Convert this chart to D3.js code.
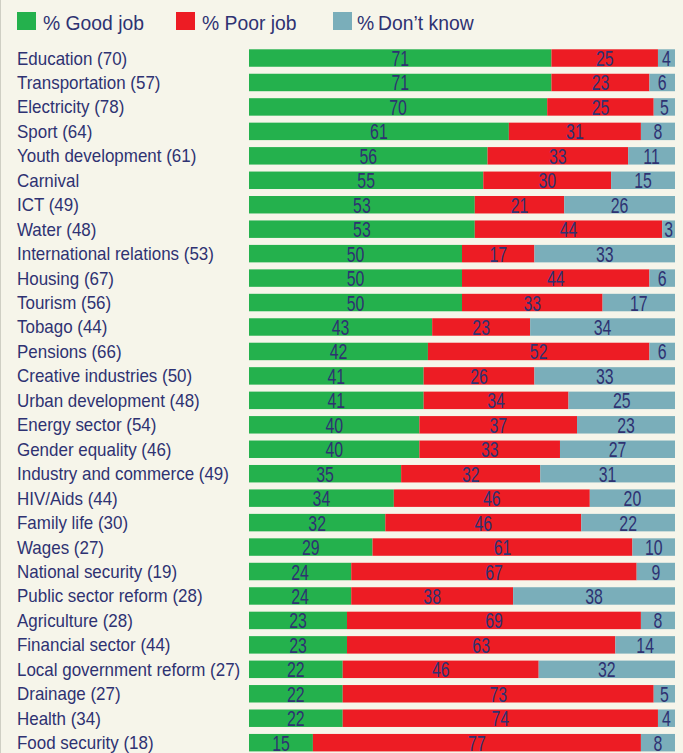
<!DOCTYPE html>
<html>
<head>
<meta charset="utf-8">
<script src="https://cdn.jsdelivr.net/npm/d3@7"></script>
<style>
  html, body { margin: 0; padding: 0; background: #f6f5ea; }
  svg { display: block; font-family: "Liberation Sans", Arial, sans-serif; }
</style>
</head>
<body>
<div id="chart"></div>
<script>
const categories = [
  "Education (70)", "Transportation (57)", "Electricity (78)", "Sport (64)",
  "Youth development (61)", "Carnival", "ICT (49)", "Water (48)",
  "International relations (53)", "Housing (67)", "Tourism (56)", "Tobago (44)",
  "Pensions (66)", "Creative industries (50)", "Urban development (48)",
  "Energy sector (54)", "Gender equality (46)", "Industry and commerce (49)",
  "HIV/Aids (44)", "Family life (30)", "Wages (27)", "National security (19)",
  "Public sector reform (28)", "Agriculture (28)", "Financial sector (44)",
  "Local government reform (27)", "Drainage (27)", "Health (34)", "Food security (18)"
];
const goodJob  = [71, 71, 70, 61, 56, 55, 53, 53, 50, 50, 50, 43, 42, 41, 41, 40, 40, 35, 34, 32, 29, 24, 24, 23, 23, 22, 22, 22, 15];
const poorJob  = [25, 23, 25, 31, 33, 30, 21, 44, 17, 44, 33, 23, 52, 26, 34, 37, 33, 32, 46, 46, 61, 67, 38, 69, 63, 46, 73, 74, 77];
const dontKnow = [4, 6, 5, 8, 11, 15, 26, 3, 33, 6, 17, 34, 6, 33, 25, 23, 27, 31, 20, 22, 10, 9, 38, 8, 14, 32, 5, 4, 8];
const seriesNames = ["% Good job", "% Poor job", "%\u2009Don\u2019t know"];
const seriesKeys = ["good", "poor", "dk"];
const seriesColors = ["#24b14d", "#ed1c24", "#7aaeba"];

const W = 683, H = 753;
const textColor = "#2e3272";

const rows = categories.map((c, i) => ({ name: c, good: goodJob[i], poor: poorJob[i], dk: dontKnow[i] }));

const svg = d3.select("#chart").append("svg")
  .attr("width", W).attr("height", H);

svg.append("rect").attr("width", W).attr("height", H).attr("fill", "#f6f5ea");
svg.append("line").attr("x1", 0.5).attr("x2", 0.5).attr("y1", 0).attr("y2", H)
  .attr("stroke", "#cfcfc4").attr("stroke-width", 1);

// no narrow font installed, so squeeze text horizontally instead
function squeeze(sel, sx) {
  sel.each(function () {
    const t = d3.select(this);
    const px = +t.attr("x"), py = +t.attr("y");
    t.attr("x", 0).attr("y", 0)
      .attr("transform", `translate(${px},${py}) scale(${sx},1)`);
  });
}

const x = d3.scaleLinear().domain([0, 1]).range([249, 675]);
const y = d3.scaleBand().domain(categories).range([45.8, 754.9])
  .paddingInner(0.286).paddingOuter(0.143);
const color = d3.scaleOrdinal().domain(seriesKeys).range(seriesColors);

const stacked = d3.stack().keys(seriesKeys).offset(d3.stackOffsetExpand)(rows);

svg.append("g").selectAll("g")
  .data(stacked).join("g")
  .attr("fill", d => color(d.key))
  .selectAll("rect")
  .data(d => d)
  .join("rect")
  .attr("x", d => x(d[0]))
  .attr("width", d => x(d[1]) - x(d[0]))
  .attr("y", d => y(d.data.name))
  .attr("height", y.bandwidth());

// values in segments
const vals = svg.append("g").selectAll("g")
  .data(stacked).join("g")
  .selectAll("text")
  .data(d => d.map(s => ({ s, key: d.key })))
  .join("text")
  .attr("x", d => (x(d.s[0]) + x(d.s[1])) / 2)
  .attr("y", d => y(d.s.data.name) + y.bandwidth() / 2 + 8)
  .attr("text-anchor", "middle")
  .attr("fill", textColor)
  .style("font-size", "22px")
  .text(d => d.s.data[d.key]);
squeeze(vals, 0.72);

// category labels
const labels = svg.append("g").selectAll("text")
  .data(categories).join("text")
  .attr("x", 17)
  .attr("y", d => y(d) + y.bandwidth() / 2 + 6.5)
  .attr("fill", textColor)
  .style("font-size", "18.5px")
  .text(d => d);
const longest = labels.filter(d => d === "International relations (53)").node().getComputedTextLength();
squeeze(labels, 197 / longest);

// legend
const legendX = [17, 176, 333];
const legend = svg.append("g").selectAll("g")
  .data(seriesKeys).join("g")
  .attr("transform", (d, i) => `translate(${legendX[i]},12)`);
legend.append("rect")
  .attr("width", 19).attr("height", 18)
  .attr("fill", d => color(d));
const legText = legend.append("text")
  .attr("x", (d, i) => i === 2 ? 24 : 26)
  .attr("y", 18)
  .attr("fill", textColor)
  .style("font-size", "21px")
  .text((d, i) => seriesNames[i]);
const goodLen = legText.filter(d => d === "good").node().getComputedTextLength();
squeeze(legText, 101 / goodLen);
</script>
</body>
</html>
